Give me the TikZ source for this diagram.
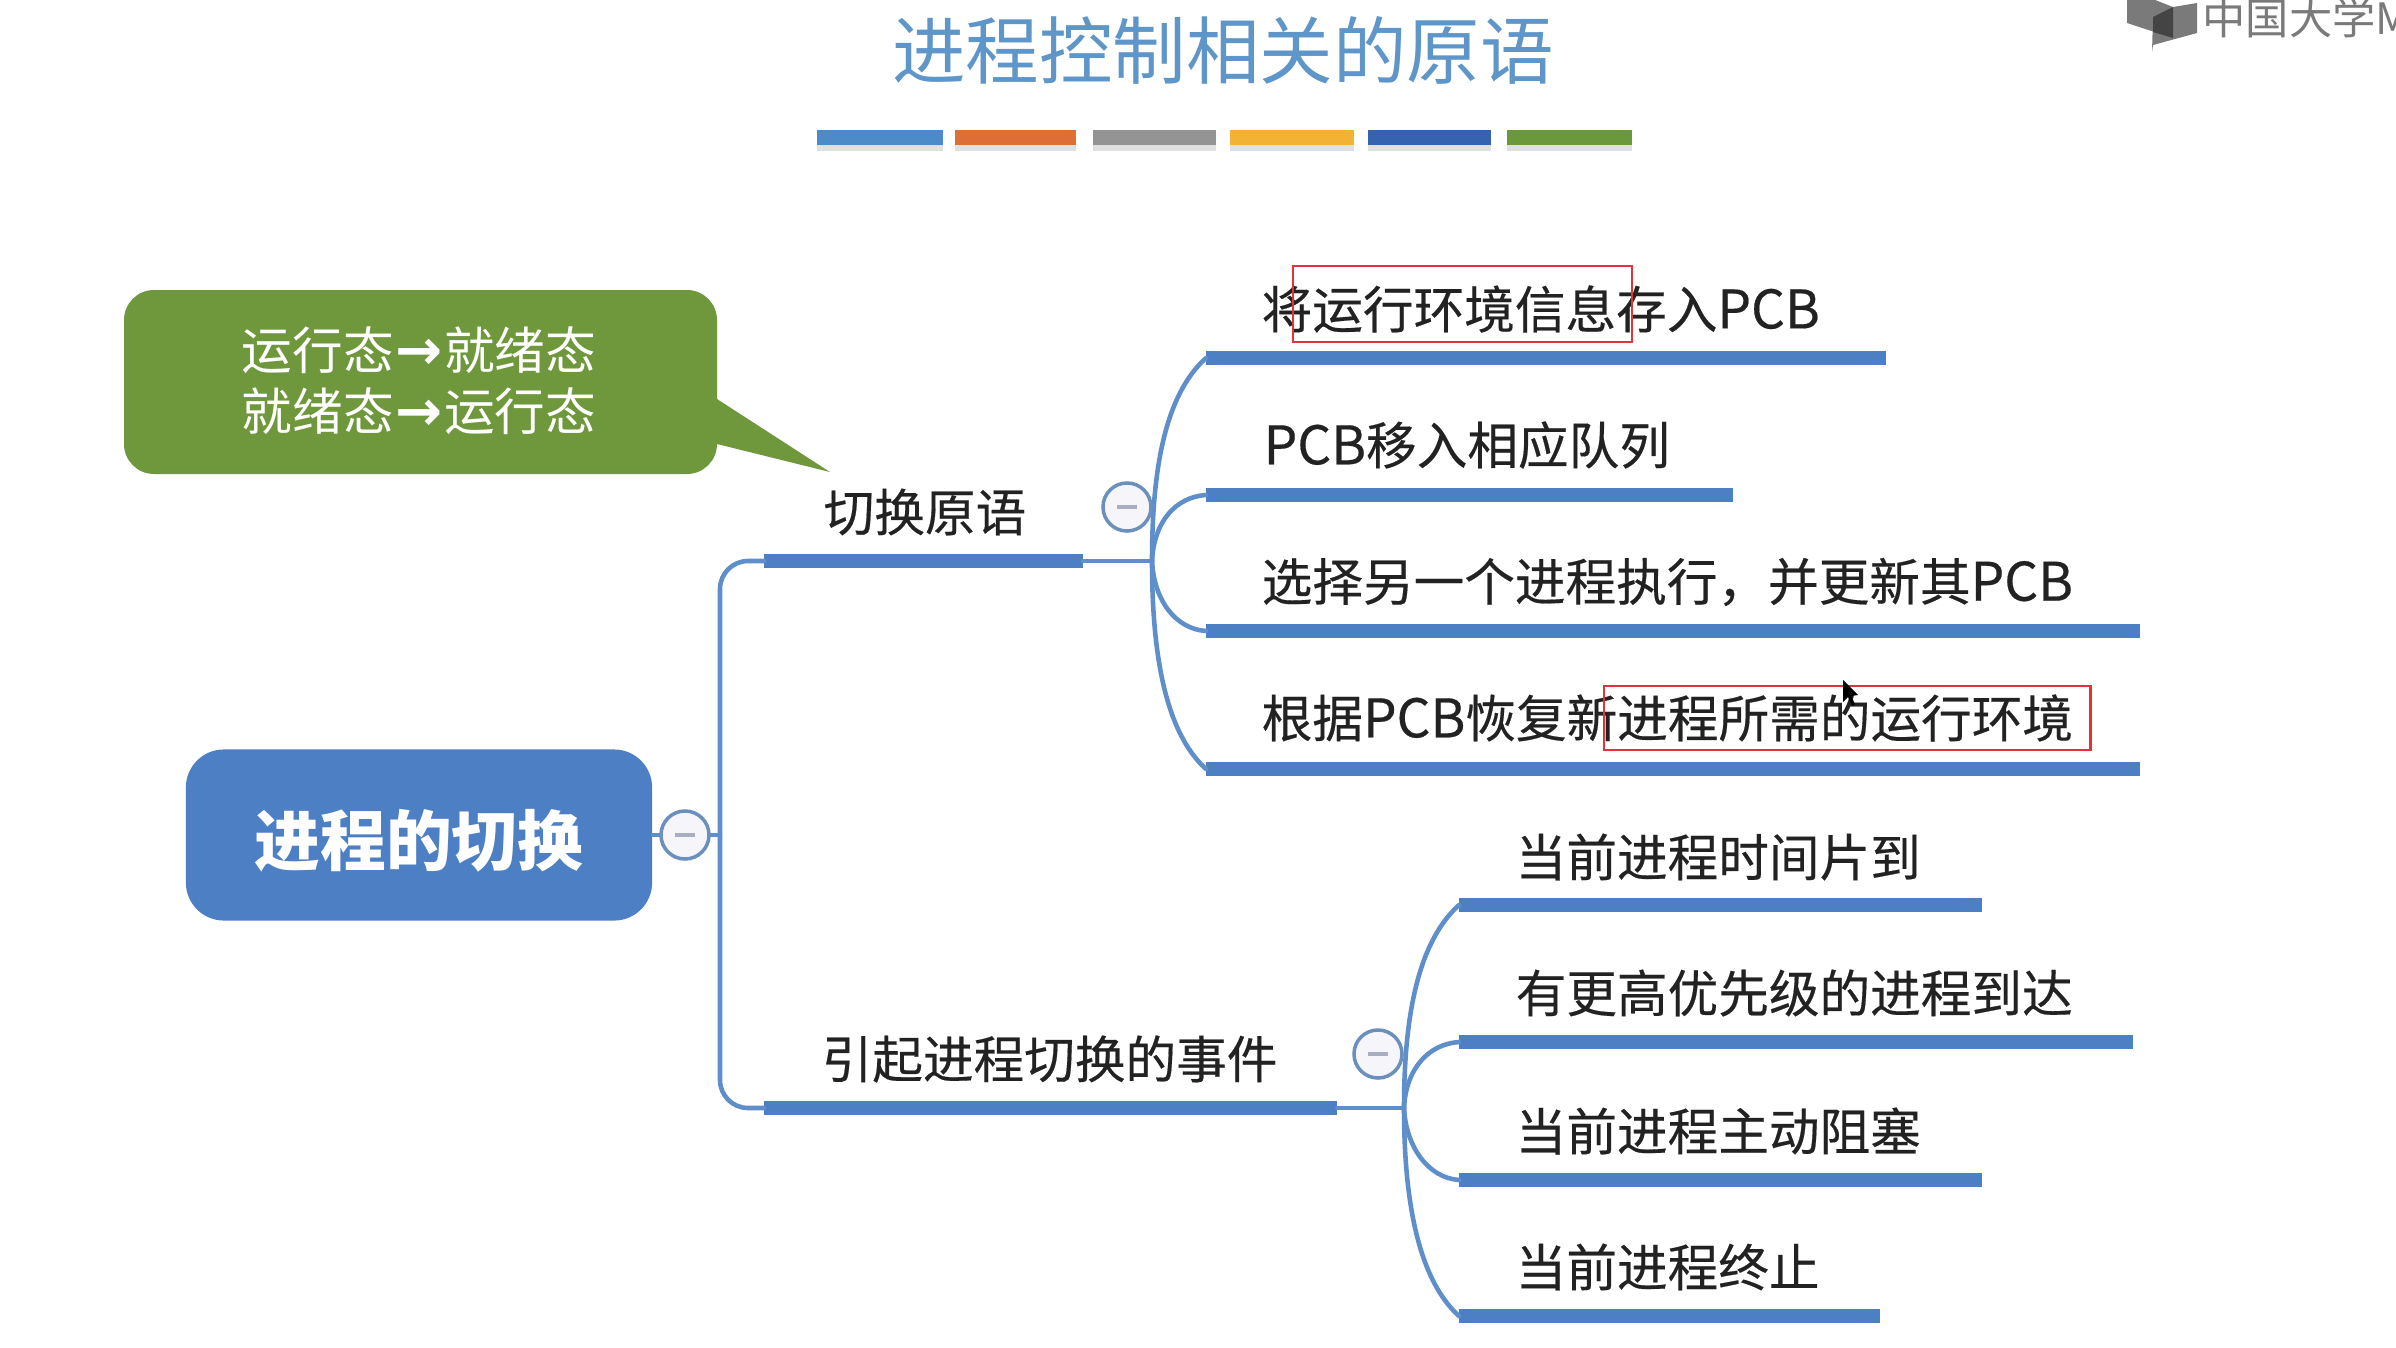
\documentclass[tikz,border=0pt]{standalone}
\usepackage{fontspec}
\setmainfont{Noto Sans CJK SC}
\newfontfamily\labelfont[FakeBold=0.35]{Noto Sans CJK SC}
\newfontfamily\arrowfont{DejaVu Sans Bold}
\definecolor{mapblue}{HTML}{4D7FC4}
\definecolor{linkblue}{HTML}{5F8FCB}
\definecolor{ringblue}{HTML}{6C90BE}
\definecolor{ringfill}{HTML}{F5F5FA}
\definecolor{minusgray}{HTML}{A9AEC0}
\definecolor{calloutgreen}{HTML}{6F973C}
\definecolor{titleblue}{HTML}{5F96C9}
\definecolor{textdark}{HTML}{222222}
\definecolor{logogray}{HTML}{7A7A7A}
\definecolor{logodark}{HTML}{444444}
\definecolor{framered}{HTML}{E0333A}
\definecolor{c1}{HTML}{4A8BC8}
\definecolor{c2}{HTML}{DD6E36}
\definecolor{c3}{HTML}{949494}
\definecolor{c4}{HTML}{F2B233}
\definecolor{c5}{HTML}{3563B0}
\definecolor{c6}{HTML}{6C983C}
\tikzset{
  x=0.01cm,y=-0.01cm,
  link/.style={draw=linkblue,line width=1.3pt,line cap=round},
  barnode/.style={fill=mapblue,draw=none,inner sep=0pt,minimum height=0.135cm,anchor=west,outer sep=0pt},
  label/.style={text=textdark,font=\labelfont\fontsize{14.4pt}{17pt}\selectfont,inner sep=0pt,anchor=west},
  collapse/.style={circle,draw=ringblue,line width=1pt,fill=ringfill,minimum size=0.48cm,inner sep=0pt},
  minusmark/.style={draw=minusgray,line width=1.2pt},
  colorbar/.style={draw=none,inner sep=0pt,anchor=north west,minimum height=0.15cm,outer sep=0pt},
  redframe/.style={draw=framered,line width=0.7pt,fill=none,inner sep=0pt,anchor=north west,outer sep=0pt},
}
\newcommand{\cbar}[4]{%
  \fill[black,opacity=.12] (#1,133) rectangle ++(#2,18);
  \node[colorbar,fill=#3,minimum width=#2*0.01cm] (#4) at (#1,130) {};}
\newcommand{\minusin}[1]{\draw[minusmark] ([xshift=-0.1cm]#1.center) -- ([xshift=0.1cm]#1.center);}
\newcommand{\pcb}{{\fontsize{15.1pt}{17pt}\selectfont PCB}}
\newcommand{\bigarrow}{\makebox[1em]{\arrowfont\fontsize{16pt}{17pt}\selectfont →}}
\begin{document}
\begin{tikzpicture}
\useasboundingbox (0,0) rectangle (2396,1348);
\clip (0,0) rectangle (2396,1348);
\fill[white] (0,0) rectangle (2396,1348);

% title
\node[text=titleblue,font=\fontsize{20.9pt}{24pt}\selectfont,inner sep=0pt] (title) at (1223,50) {进程控制相关的原语};
\cbar{817}{126}{c1}{ca}
\cbar{955}{121}{c2}{cb}
\cbar{1093}{123}{c3}{cc}
\cbar{1230}{124}{c4}{cd}
\cbar{1368}{123}{c5}{ce}
\cbar{1507}{125}{c6}{cf}

% logo
\fill[logogray] (2127,-2) -- (2127,23) -- (2173,38) -- (2173,7) -- (2150,-2) -- cycle;
\fill[logogray] (2153,17) -- (2173,7) -- (2197,3) -- (2197,33) -- (2153,45) -- (2152,52) -- cycle;
\fill[logodark] (2153,17) -- (2173,7) -- (2173,38) -- (2153,32) -- cycle;
\node[text=logogray,font=\fontsize{12.3pt}{14pt}\selectfont,inner sep=0pt,anchor=west] (logotext) at (2202,18) {中国大学M};

% callout
\fill[calloutgreen,rounded corners=0.3cm] (124,290) rectangle (717,474);
\fill[calloutgreen] (710,399) -- (717,399) -- (830,472) -- (717,444) -- (710,444) -- cycle;
\node[text=white,align=center,inner sep=0pt,font=\fontsize{14.4pt}{17.4pt}\selectfont] (note) at (419,381) {运行态\bigarrow 就绪态\\就绪态\bigarrow 运行态};

% root
\node[fill=mapblue,rounded corners=0.38cm,minimum width=4.66cm,minimum height=1.71cm,inner sep=0pt,text=white,font=\fontsize{18.7pt}{22pt}\selectfont\bfseries] (root) at (419,835) {\raisebox{-0.06cm}[\height][\depth]{进程的切换}};

% main branches
\coordinate (junction) at (720,835);
\coordinate (oa) at (1152,561);
\coordinate (ob) at (1404,1108);
\node[barnode,minimum width=3.19cm] (sa) at (764,561) {};
\node[barnode,minimum width=5.73cm] (sb) at (764,1108) {};
\draw[link] (root.east) -- (junction);
\draw[link,rounded corners=0.28cm] (sa.west) -| (junction) |- (sb.west);
\draw[link] (sa.east) -- (oa);
\draw[link] (sb.east) -- (ob);

% leaf bars
\node[barnode,minimum width=6.80cm] (a1) at (1206,358) {};
\node[barnode,minimum width=5.27cm] (a2) at (1206,495) {};
\node[barnode,minimum width=9.33cm] (a3) at (1206,631) {};
\node[barnode,minimum width=9.33cm] (a4) at (1206,769) {};
\node[barnode,minimum width=5.23cm] (b1) at (1459,905) {};
\node[barnode,minimum width=6.74cm] (b2) at (1459,1042) {};
\node[barnode,minimum width=5.23cm] (b3) at (1459,1180) {};
\node[barnode,minimum width=4.21cm] (b4) at (1459,1316) {};

\draw[link] (oa) .. controls +(0,-92) and +(-41,37) .. (a1.west);
\draw[link] (oa) .. controls +(2,-40) and +(-30,2) .. (a2.west);
\draw[link] (oa) .. controls +(2,40) and +(-30,-2) .. (a3.west);
\draw[link] (oa) .. controls +(0,92) and +(-41,-37) .. (a4.west);
\draw[link] (ob) .. controls +(0,-92) and +(-41,37) .. (b1.west);
\draw[link] (ob) .. controls +(2,-40) and +(-30,2) .. (b2.west);
\draw[link] (ob) .. controls +(2,40) and +(-30,-2) .. (b3.west);
\draw[link] (ob) .. controls +(0,92) and +(-41,-37) .. (b4.west);

% collapse marks
\node[collapse] (cr) at (685,835) {}; \minusin{cr}
\node[collapse] (ca1) at (1127,507) {}; \minusin{ca1}
\node[collapse] (cb1) at (1378,1054) {}; \minusin{cb1}

% labels
\node[label] (la) at (823,512) {切换原语};
\node[label] (lb) at (821,1059) {引起进程切换的事件};
\node[label] (l1) at (1261,309) {将运行环境信息存入\pcb};
\node[label] (l2) at (1263,445) {\pcb 移入相应队列};
\node[label] (l3) at (1261,582) {选择另一个进程执行，并更新其\pcb};
\node[label] (l4) at (1261,718) {根据\pcb 恢复新进程所需的运行环境};
\node[label] (l5) at (1515,857) {当前进程时间片到};
\node[label] (l6) at (1515,993) {有更高优先级的进程到达};
\node[label] (l7) at (1515,1131) {当前进程主动阻塞};
\node[label] (l8) at (1515,1267) {当前进程终止};

% red frames
\node[redframe,minimum width=3.39cm,minimum height=0.76cm] (r1) at (1293,266) {};
\node[redframe,minimum width=4.86cm,minimum height=0.64cm] (r2) at (1604,686) {};

% pointer
\fill[black] (1843,680) -- (1843,702) -- (1848,697) -- (1852,706) -- (1855,704) -- (1851,696) -- (1858,695) -- cycle;
\end{tikzpicture}
\end{document}
